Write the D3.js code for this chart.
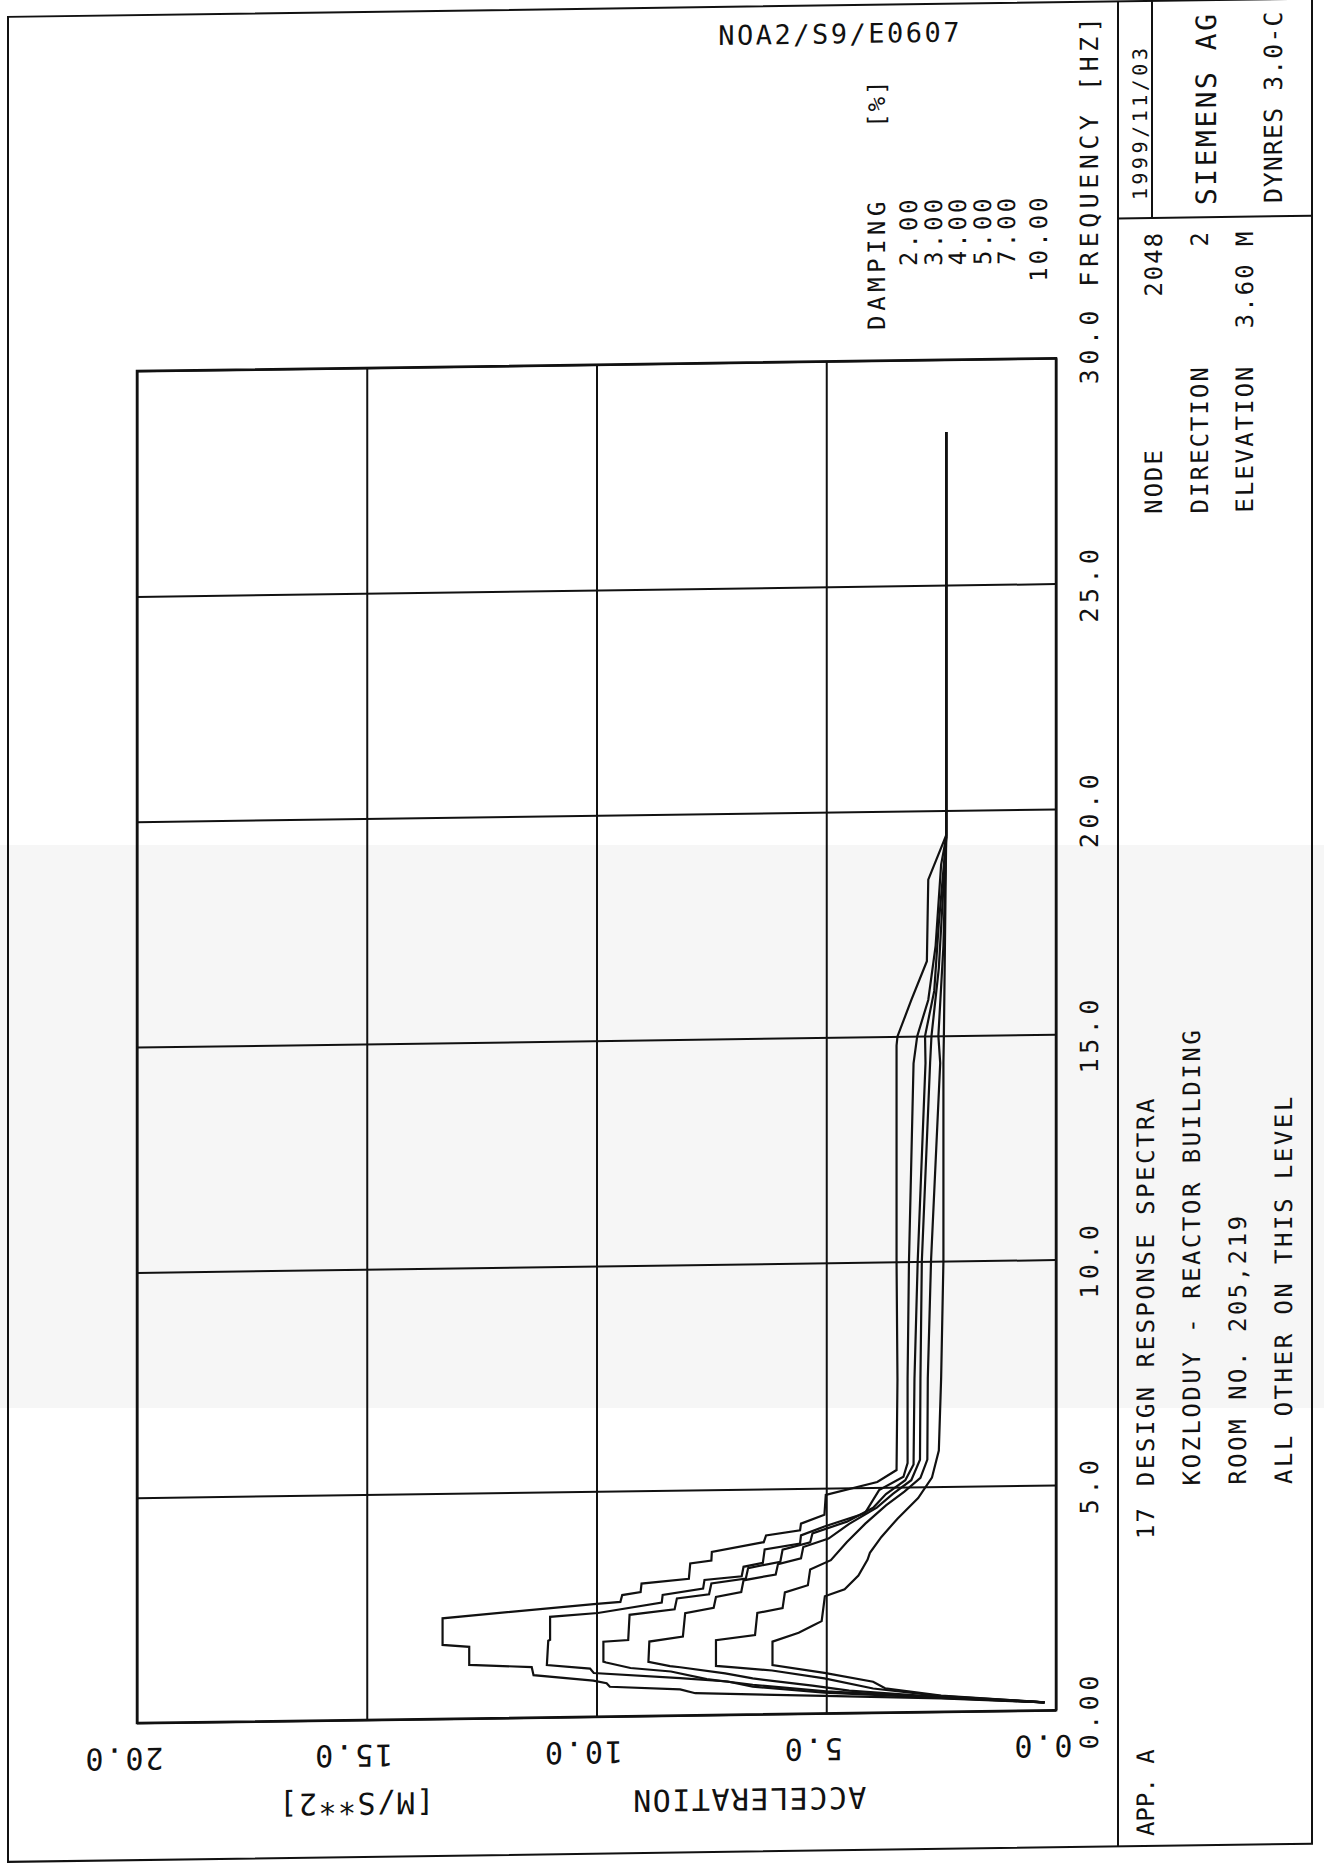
<!DOCTYPE html>
<html>
<head>
<meta charset="utf-8">
<script src="https://cdnjs.cloudflare.com/ajax/libs/d3/7.8.5/d3.min.js"></script>
<style>
  body { margin: 0; background: #fff; }
  svg { display: block; }
  text { font-family: "DejaVu Sans Mono", monospace; fill: #111; }
</style>
</head>
<body>
<svg id="chart"></svg>
<script>

// axis ticks
const accTicks = [0, 5, 10, 15, 20];
const accLabels = ["0.0", "5.0", "10.0", "15.0", "20.0"];
const freqTicks = [0, 5, 10, 15, 20, 25, 30];
const freqLabels = ["0.00", "5.0", "10.0", "15.0", "20.0", "25.0", "30.0 FREQUENCY [HZ]"];

// damping legend
const dampingLabels = ["2.00", "3.00", "4.00", "5.00", "7.00", "10.00"];

// spectra, [frequency Hz, acceleration m/s2]
const spec2 = [[0.18,0.25],[0.30,2.5],[0.39,5.04],[0.49,7.85],[0.58,8.18],[0.66,9.71],[0.74,9.78],[0.80,10.07],
  [0.94,11.37],[1.12,11.41],[1.19,12.77],[1.59,12.77],[1.64,13.35],[2.23,13.35],[2.50,10.06],[2.54,9.48],
  [2.69,9.44],[2.75,9.04],[2.94,9.02],[3.03,7.99],[3.37,7.96],[3.43,7.50],[3.62,7.49],[3.82,6.36],[3.97,6.31],
  [4.07,5.57],[4.22,5.55],[4.41,5.04],[4.85,5.01],[5.12,3.89],[5.38,3.47],[7.4,3.45],[10.0,3.47],[14.8,3.47],
  [15.0,3.45],[15.8,3.15],[16.66,2.81],[18.47,2.78],[19.3,2.45],[19.45,2.39],[28.4,2.39]];
const spec3 = [[0.18,0.25],[0.31,2.5],[0.46,5.04],[0.62,6.6],[0.74,7.15],[0.83,8.18],[0.97,10.06],[1.07,10.14],
  [1.16,11.08],[1.70,11.05],[1.72,11.01],[2.23,11.01],[2.30,9.97],[2.51,8.58],[2.68,8.56],[2.81,7.68],[3.00,7.65],
  [3.07,6.84],[3.28,6.80],[3.36,6.38],[3.66,6.34],[3.78,5.57],[3.96,5.55],[4.15,5.04],[4.43,4.16],[4.94,3.85],
  [5.23,3.32],[5.53,3.23],[7.4,3.23],[10.0,3.20],[14.4,3.10],[15.0,3.02],[15.8,2.78],[17.0,2.62],[18.8,2.50],
  [19.4,2.39],[28.4,2.39]];
const spec4 = [[0.18,0.25],[0.32,2.5],[0.49,5.0],[0.66,6.6],[0.80,7.6],[0.98,8.38],[1.07,9.26],[1.20,9.79],
  [1.22,9.85],[1.66,9.85],[1.69,9.31],[2.25,9.28],[2.36,8.30],[2.60,8.25],[2.68,7.55],[2.92,7.50],[3.02,6.75],
  [3.25,6.70],[3.38,6.00],[3.65,5.95],[3.80,5.35],[4.00,5.30],[4.25,4.55],[4.55,3.98],[4.85,3.70],[5.15,3.28],
  [5.5,3.10],[7.4,3.08],[10.0,3.01],[14.4,2.84],[15.0,2.85],[16.0,2.65],[17.5,2.55],[19.4,2.39],[28.4,2.39]];
const spec5 = [[0.18,0.25],[0.33,2.5],[0.50,4.5],[0.62,5.3],[0.80,6.6],[0.92,7.2],[1.07,8.18],[1.10,8.40],
  [1.20,8.87],[1.65,8.85],[1.75,8.12],[2.27,8.07],[2.38,7.45],[2.62,7.40],[2.72,6.85],[2.98,6.80],[3.10,6.10],
  [3.33,6.05],[3.45,5.55],[3.70,5.50],[3.88,4.95],[4.20,4.50],[4.55,3.90],[4.85,3.55],[5.15,3.15],[5.6,2.96],
  [7.4,2.95],[10.0,2.92],[14.4,2.74],[15.0,2.71],[16.5,2.55],[19.4,2.39],[28.4,2.39]];
const spec7 = [[0.18,0.25],[0.35,2.5],[0.54,3.98],[0.78,5.04],[0.97,6.18],[1.05,7.0],[1.09,7.40],[1.66,7.40],
  [1.76,6.55],[2.25,6.50],[2.35,5.95],[2.70,5.90],[2.85,5.40],[3.20,5.35],[3.40,4.90],[3.80,4.55],[4.20,4.15],
  [4.60,3.70],[4.90,3.30],[5.20,2.95],[5.6,2.80],[7.4,2.79],[10.0,2.72],[14.4,2.52],[15.0,2.56],[17.0,2.45],
  [19.4,2.39],[28.4,2.39]];
const spec10 = [[0.18,0.25],[0.36,2.5],[0.54,3.72],[0.69,3.98],[0.90,5.04],[1.09,6.17],[1.61,6.17],[1.80,5.60],
  [1.95,5.30],[2.05,5.10],[2.60,5.03],[2.75,4.60],[3.05,4.30],[3.40,4.10],[3.55,4.05],[3.90,3.80],[4.30,3.45],
  [4.75,3.00],[5.2,2.70],[5.8,2.55],[7.4,2.50],[10.0,2.45],[14.4,2.45],[15.0,2.44],[19.4,2.39],[28.4,2.39]];

// title block text
const titleLines = ["DESIGN RESPONSE SPECTRA", "KOZLODUY - REACTOR BUILDING", "ROOM NO. 205,219", "ALL OTHER ON THIS LEVEL"];
const nodeLabels = ["NODE", "DIRECTION", "ELEVATION"];
const nodeValues = ["2048", "2", "3.60 M"];


const width = 1324, height = 1863;
const plot = {left: 137, right: 1056, top: 373, bottom: 1725};

const svg = d3.select("#chart")
  .attr("width", width)
  .attr("height", height);

svg.append("rect").attr("width", width).attr("height", height).attr("fill", "#fff");
// light scanner band
svg.append("rect").attr("x", 0).attr("y", 845).attr("width", width).attr("height", 563).attr("fill", "#f6f6f6");

// the scan is slightly skewed
const page = svg.append("g").attr("transform", "skewY(-0.8)");

const xScale = d3.scaleLinear().domain([0, 20]).range([plot.right, plot.left]);
const yScale = d3.scaleLinear().domain([0, 30]).range([plot.bottom, plot.top]);

// page frame and title block lines
page.append("rect")
  .attr("x", 8).attr("y", 17).attr("width", 1304).attr("height", 1845)
  .attr("fill", "none").attr("stroke", "#111").attr("stroke-width", 2);

const frame = [[1118, 17, 1118, 1862], [1152, 17, 1152, 234], [1118, 234, 1312, 234]];
frame.forEach(l => {
  page.append("line")
    .attr("x1", l[0]).attr("y1", l[1]).attr("x2", l[2]).attr("y2", l[3])
    .attr("stroke", "#111").attr("stroke-width", 2);
});

// acceleration axis (runs right to left)
const gx = page.append("g")
  .attr("transform", "translate(0," + plot.bottom + ")")
  .attr("color", "#111")
  .call(d3.axisBottom(xScale)
    .tickValues(accTicks)
    .tickSize(-(plot.bottom - plot.top))
    .tickFormat((d, i) => accLabels[i]));
gx.select(".domain").remove();
gx.selectAll("line").attr("stroke-width", 2);
gx.selectAll("text")
  .attr("transform", "rotate(180)")
  .attr("x", 14).attr("y", -25).attr("dy", null)
  .attr("text-anchor", "middle")
  .style("font-size", "30px").style("letter-spacing", "2px");

// frequency axis (runs bottom to top)
const gy = page.append("g")
  .attr("transform", "translate(" + plot.right + ",0)")
  .attr("color", "#111")
  .call(d3.axisRight(yScale)
    .tickValues(freqTicks)
    .tickSize(-(plot.right - plot.left))
    .tickFormat((d, i) => freqLabels[i]));
gy.select(".domain").remove();
gy.selectAll("line").attr("stroke-width", 2);
gy.selectAll("text")
  .attr("transform", "rotate(-90)")
  .attr("x", (d, i) => i == freqTicks.length - 1 ? -26 : 0)
  .attr("y", 42).attr("dy", null)
  .attr("text-anchor", (d, i) => i == freqTicks.length - 1 ? "start" : "middle")
  .style("font-size", "25px").style("letter-spacing", "4.5px");

page.append("rect")
  .attr("x", plot.left).attr("y", plot.top)
  .attr("width", plot.right - plot.left).attr("height", plot.bottom - plot.top)
  .attr("fill", "none").attr("stroke", "#111").attr("stroke-width", 2.5);

// spectra
const line = d3.line()
  .x(d => xScale(d[1]))
  .y(d => yScale(d[0]));

[spec2, spec3, spec4, spec5, spec7, spec10].forEach(s => {
  page.append("path")
    .datum(s)
    .attr("d", line)
    .attr("fill", "none")
    .attr("stroke", "#111")
    .attr("stroke-width", 2.2)
    .attr("stroke-linejoin", "miter");
});

// text helpers
function vtext(x, y, str, size, spacing, anchor) {
  return page.append("text")
    .attr("transform", "translate(" + x + "," + y + ") rotate(-90)")
    .attr("text-anchor", anchor)
    .style("font-size", size + "px")
    .style("letter-spacing", spacing + "px")
    .text(str);
}
function utext(x, y, str, size, spacing) {
  return page.append("text")
    .attr("transform", "translate(" + x + "," + y + ") rotate(180)")
    .attr("text-anchor", "middle")
    .style("font-size", size + "px")
    .style("letter-spacing", spacing + "px")
    .text(str);
}

utext(749, 1799, "ACCELERATION", 30, 1.5);
utext(356, 1798, "[M/S**2]", 30, 1.5);

page.append("text")
  .attr("x", 962).attr("y", 55)
  .attr("text-anchor", "end")
  .style("font-size", "27px").style("letter-spacing", "2.5px")
  .text("NOA2/S9/E0607");

// damping legend
vtext(885, 342, "DAMPING", 24, 4.5, "start");
vtext(885, 140, "[%]", 24, 2, "start");
dampingLabels.forEach((d, i) => {
  vtext(i < 5 ? 917 + i * 24.5 : 1047, 209, d, 24, 3, "end");
});

// title block
vtext(1147, 216, "1999/11/03", 20, 3.5, "start");
vtext(1216, 222, "SIEMENS AG", 28, 2.5, "start");
vtext(1282, 221, "DYNRES 3.0-C", 25, 1, "start");

nodeLabels.forEach((d, i) => {
  vtext(1162 + i * 45.5, 530, d, 24, 2, "start");
  vtext(1162 + i * 45.5, 247, nodeValues[i], 24, 2, "end");
});

vtext(1154, 1852, "APP. A", 24, 0, "start");
vtext(1154, 1555, "17", 24, 2, "start");
titleLines.forEach((d, i) => {
  vtext(1154 + i * 46, 1502, d, 24, 2.5, "start");
});

</script>
</body>
</html>
